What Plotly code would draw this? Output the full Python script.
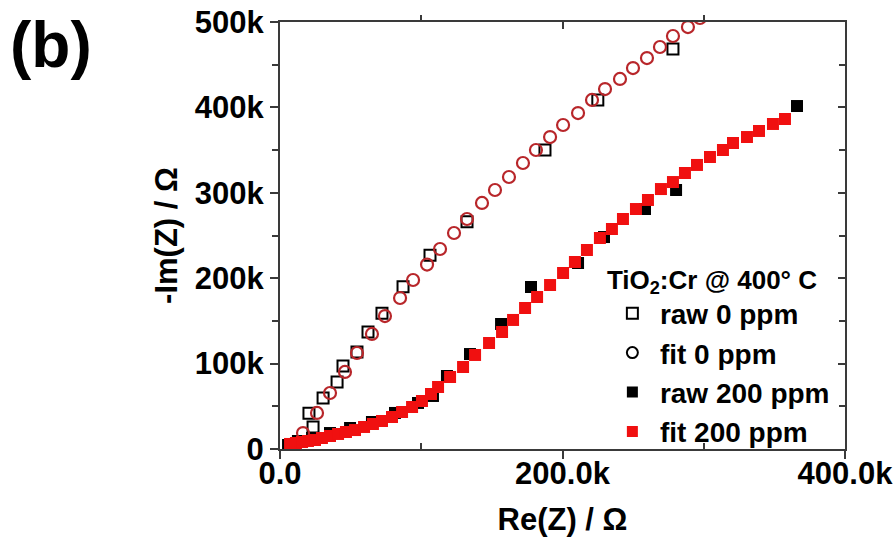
import plotly.graph_objects as go

# Impedance spectra (Nyquist) of TiO2:Cr at 400 °C, values in ohm
re_raw_0 = [20.5e3, 23.4e3, 30.5e3, 40.4e3, 44.6e3, 54.5e3, 62.3e3, 72.2e3, 87.1e3,
            106.2e3, 132.4e3, 187.6e3, 225.0e3, 278.2e3]
im_raw_0 = [42e3, 25.8e3, 59.7e3, 78.5e3, 97.2e3, 113.6e3, 137e3, 159e3, 190e3,
            227e3, 266e3, 350e3, 408.7e3, 468.4e3]

re_fit_0 = [16.3e3, 26.2e3, 35.4e3, 46.0e3, 54.5e3, 65.1e3, 74.3e3, 85.0e3, 94.2e3,
            104.1e3, 113.3e3, 123.2e3, 132.4e3, 143.0e3, 152.2e3, 162.1e3, 172.0e3,
            181.2e3, 191.2e3, 200.4e3, 211.0e3, 220.9e3, 230.1e3, 240.7e3, 249.9e3,
            259.8e3, 269.0e3, 278.2e3, 288.8e3, 297.3e3]
im_fit_0 = [18.7e3, 42.2e3, 65.6e3, 90.2e3, 112.4e3, 134.7e3, 155.7e3, 176.8e3, 197.9e3,
            216.0e3, 234.2e3, 252.9e3, 269.3e3, 288.1e3, 303.3e3, 318.5e3, 334.9e3,
            350.1e3, 365.3e3, 379.4e3, 393.4e3, 408.7e3, 421.5e3, 433.3e3, 446.1e3,
            457.8e3, 470.7e3, 483.6e3, 494.1e3, 504.7e3]

re_raw_200 = [5.7e3, 12.7e3, 22.7e3, 35.4e3, 49.6e3, 65.1e3, 81.4e3, 97.7e3, 108.3e3,
              118.2e3, 134.5e3, 156.5e3, 177.7e3, 211.0e3, 229.4e3, 258.4e3, 280.4e3,
              366.0e3]
im_raw_200 = [4.7e3, 9.4e3, 12.9e3, 18.7e3, 24.6e3, 31.6e3, 42.2e3, 53.9e3, 62.1e3,
              85.5e3, 111.2e3, 146.4e3, 189.7e3, 217.8e3, 248.2e3, 281.0e3, 303.3e3,
              401.6e3]

re_fit_200 = [7.1e3, 11.3e3, 15.6e3, 19.8e3, 24.8e3, 29.7e3, 35.4e3, 41.1e3, 46.7e3,
              53.1e3, 59.5e3, 65.8e3, 72.2e3, 79.3e3, 86.4e3, 93.5e3, 100.5e3, 106.9e3,
              111.9e3, 120.4e3, 129.6e3, 138.1e3, 148.0e3, 157.2e3, 165.0e3, 173.5e3,
              182.0e3, 191.2e3, 200.4e3, 208.8e3, 217.3e3, 226.5e3, 235.0e3, 242.8e3,
              252.0e3, 260.5e3, 269.7e3, 278.2e3, 286.7e3, 295.2e3, 304.4e3, 313.6e3,
              320.7e3, 330.6e3, 339.1e3, 349.0e3, 357.5e3]
im_fit_200 = [5.9e3, 7.0e3, 8.2e3, 9.4e3, 10.5e3, 12.9e3, 15.2e3, 17.6e3, 19.9e3,
              22.2e3, 25.8e3, 29.3e3, 32.8e3, 37.5e3, 43.3e3, 49.2e3, 56.2e3, 64.4e3,
              72.6e3, 84.3e3, 96.0e3, 110.1e3, 124.1e3, 137.0e3, 151.1e3, 165.1e3,
              178.0e3, 192.0e3, 206.1e3, 219.0e3, 233.0e3, 247.1e3, 257.6e3, 269.3e3,
              281.0e3, 291.6e3, 304.4e3, 312.6e3, 323.2e3, 332.6e3, 341.9e3, 350.1e3,
              358.3e3, 365.3e3, 372.4e3, 380.6e3, 386.4e3]

x_tickvals = [0, 200e3, 400e3]
x_ticktext = ["0.0", "200.0k", "400.0k"]
y_tickvals = [0, 100e3, 200e3, 300e3, 400e3, 500e3]
y_ticktext = ["0", "100k", "200k", "300k", "400k", "500k"]

FONT = "Liberation Sans, Arial, sans-serif"
AXIS_COLOR = "#3a3a3a"
FIT0_COLOR = "#b8262a"
FIT200_COLOR = "#f01010"

fig = go.Figure()

fig.add_trace(go.Scatter(
    x=re_raw_0, y=im_raw_0, mode="markers", showlegend=False,
    marker=dict(symbol="square-open", size=11, color="black", line=dict(width=2)),
))
fig.add_trace(go.Scatter(
    x=re_raw_200, y=im_raw_200, mode="markers", showlegend=False,
    marker=dict(symbol="square", size=12, color="black", line=dict(width=0)),
))
fig.add_trace(go.Scatter(
    x=re_fit_0, y=im_fit_0, mode="markers", showlegend=False,
    marker=dict(symbol="circle-open", size=12, color=FIT0_COLOR, line=dict(width=2.2)),
))
fig.add_trace(go.Scatter(
    x=re_fit_200, y=im_fit_200, mode="markers", showlegend=False,
    marker=dict(symbol="square", size=12, color=FIT200_COLOR, line=dict(width=0)),
))

# legend entries (symbols drawn in black / red as in the key)
legend_items = [
    ("raw 0 ppm", dict(symbol="square-open", size=11, color="black", line=dict(width=2))),
    ("fit 0 ppm", dict(symbol="circle-open", size=11, color="black", line=dict(width=2))),
    ("raw 200 ppm", dict(symbol="square", size=11, color="black", line=dict(width=0))),
    ("fit 200 ppm", dict(symbol="square", size=11, color=FIT200_COLOR, line=dict(width=0))),
]
for name, mk in legend_items:
    fig.add_trace(go.Scatter(x=[None], y=[None], mode="markers", name=name,
                             marker=mk, xaxis="x2", yaxis="y2"))

tickfont = dict(family=FONT, size=31, color="black", weight="bold")

fig.update_layout(
    width=896, height=540,
    margin=dict(l=280, r=51, t=22, b=91, autoexpand=False),
    paper_bgcolor="white", plot_bgcolor="white",
    showlegend=True,
    xaxis=dict(
        range=[0, 400e3], tickvals=x_tickvals, ticktext=x_ticktext,
        tickfont=tickfont, ticks="outside", ticklen=8, tickwidth=2, tickcolor=AXIS_COLOR,
        ticklabelstandoff=-12, automargin=False,
        minor=dict(tickvals=[100e3, 300e3], ticks="inside", ticklen=6, tickwidth=2,
                   tickcolor=AXIS_COLOR),
        showline=True, linecolor=AXIS_COLOR, linewidth=2, mirror=True,
        showgrid=False, zeroline=False,
        title=dict(text="Re(Z) / Ω", font=dict(family=FONT, size=31, color="black",
                                                 weight="bold"), standoff=18),
    ),
    yaxis=dict(
        range=[0, 500e3], tickvals=y_tickvals, ticktext=y_ticktext,
        tickfont=tickfont, ticks="outside", ticklen=8, tickwidth=2, tickcolor=AXIS_COLOR,
        automargin=False,
        minor=dict(tickvals=[50e3, 150e3, 250e3, 350e3, 450e3], ticks="outside",
                   ticklen=6, tickwidth=2, tickcolor=AXIS_COLOR),
        showline=True, linecolor=AXIS_COLOR, linewidth=2, mirror=True,
        showgrid=False, zeroline=False,
        title=dict(text="-Im(Z) / Ω", font=dict(family=FONT, size=31, color="black",
                                                  weight="bold"), standoff=8),
    ),
    xaxis2=dict(
        overlaying="x", anchor="y", side="top", range=[0, 400e3], automargin=False,
        tickvals=x_tickvals, showticklabels=False, ticks="inside", ticklen=7,
        tickwidth=2, tickcolor=AXIS_COLOR,
        minor=dict(tickvals=[100e3, 300e3], ticks="outside", ticklen=6, tickwidth=2,
                   tickcolor=AXIS_COLOR),
        showline=False, showgrid=False, zeroline=False,
    ),
    yaxis2=dict(
        overlaying="y", anchor="x", side="right", range=[0, 500e3], automargin=False,
        tickvals=y_tickvals, showticklabels=False, ticks="inside", ticklen=7,
        tickwidth=2, tickcolor=AXIS_COLOR,
        minor=dict(tickvals=[50e3, 150e3, 250e3, 350e3, 450e3], ticks="inside",
                   ticklen=6, tickwidth=2, tickcolor=AXIS_COLOR),
        showline=False, showgrid=False, zeroline=False,
    ),
    legend=dict(
        x=0.575, y=0.455, xanchor="left", yanchor="top",
        bgcolor="rgba(0,0,0,0)", borderwidth=0,
        font=dict(family=FONT, size=28, color="black", weight="bold"),
        title=dict(text="TiO<sub>2</sub>:Cr @ 400° C",
                   font=dict(family=FONT, size=26, color="black")),
        itemwidth=45, tracegroupgap=0,
    ),
    annotations=[
        dict(text="(b)", xref="paper", yref="paper", x=-0.482, y=1.035,
             xanchor="left", yanchor="top", showarrow=False,
             font=dict(family=FONT, size=64, color="black", weight="bold")),
    ],
)

fig.write_html("out.html")
